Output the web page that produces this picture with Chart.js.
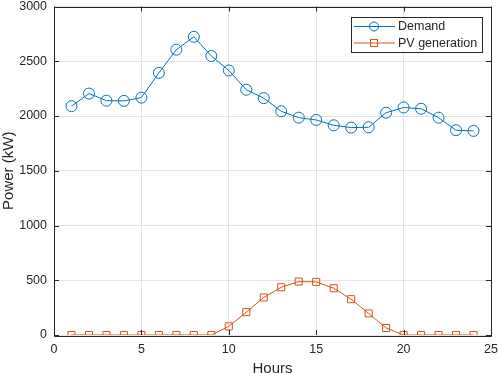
<!DOCTYPE html>
<html>
<head>
<meta charset="utf-8">
<script src="https://cdn.jsdelivr.net/npm/chart.js@4.4.1/dist/chart.umd.min.js"></script>
<style>
  html, body { margin: 0; padding: 0; background: #fff; }
</style>
</head>
<body>
<canvas id="power-chart" width="498" height="373"></canvas>
<script>
const hours = [1, 2, 3, 4, 5, 6, 7, 8, 9, 10, 11, 12, 13, 14, 15, 16, 17, 18, 19, 20, 21, 22, 23, 24];
const demand = [2090, 2205, 2140, 2138, 2168, 2394, 2606, 2723, 2548, 2416, 2240, 2163,
                2043, 1985, 1964, 1915, 1894, 1897, 2030, 2078, 2066, 1985, 1870, 1864];
const pvGeneration = [0, 0, 0, 0, 0, 0, 0, 0, 0, 79, 209, 343,
                      436, 488, 485, 427, 327, 197, 64, 0, 0, 0, 0, 0];
const xTicks = [0, 5, 10, 15, 20, 25];
const yTicks = [0, 500, 1000, 1500, 2000, 2500, 3000];
const seriesNames = ['Demand', 'PV generation'];

const blue = '#0072BD';
const orange = '#D95319';
const axisColor = '#262626';
const fontFamily = '"Liberation Sans", Arial, Helvetica, sans-serif';

// matlab style box with inward ticks on all four sides
const boxPlugin = {
    id: 'box',
    afterDatasetsDraw(chart) {
        const {ctx, chartArea: a, scales: {x, y}} = chart;
        ctx.save();
        ctx.strokeStyle = axisColor;
        ctx.lineWidth = 1;
        ctx.beginPath();
        ctx.rect(Math.round(a.left) + 0.5, Math.round(a.top) + 0.5,
                 Math.round(a.right - a.left), Math.round(a.bottom - a.top));
        xTicks.forEach(v => {
            const px = Math.round(x.getPixelForValue(v)) + 0.5;
            ctx.moveTo(px, a.bottom); ctx.lineTo(px, a.bottom - 5);
            ctx.moveTo(px, a.top); ctx.lineTo(px, a.top + 5);
        });
        yTicks.forEach(v => {
            const py = Math.round(y.getPixelForValue(v)) + 0.5;
            ctx.moveTo(a.left, py); ctx.lineTo(a.left + 5, py);
            ctx.moveTo(a.right, py); ctx.lineTo(a.right - 5, py);
        });
        ctx.stroke();
        ctx.restore();
    }
};

// legend drawn like matlab: line with marker through it
const matlabLegend = {
    id: 'matlabLegend',
    afterDraw(chart) {
        const {ctx, chartArea: a} = chart;
        const right = a.right - 9, top = a.top + 10;
        const w = 131, h = 35;
        const left = right - w;
        ctx.save();
        ctx.fillStyle = '#fff';
        ctx.fillRect(left, top, w, h);
        ctx.strokeStyle = axisColor;
        ctx.lineWidth = 1;
        ctx.strokeRect(Math.round(left) + 0.5, Math.round(top) + 0.5, w, h);
        chart.data.datasets.forEach((ds, i) => {
            const ry = top + 10 + i * 16.5;
            ctx.strokeStyle = ds.borderColor;
            ctx.lineWidth = 1;
            ctx.beginPath();
            ctx.moveTo(left + 3, ry); ctx.lineTo(left + 44, ry);
            ctx.stroke();
            const mx = left + 23;
            ctx.beginPath();
            if (ds.pointStyle === 'circle') {
                ctx.arc(mx, ry, 4.5, 0, Math.PI * 2);
            } else {
                ctx.rect(mx - 3.5, ry - 3.5, 7, 7);
            }
            ctx.stroke();
            ctx.fillStyle = axisColor;
            ctx.font = '12.5px ' + fontFamily;
            ctx.textBaseline = 'middle';
            ctx.fillText(ds.label, left + 47, ry + 0.5);
        });
        ctx.restore();
    }
};

const toPoints = vals => vals.map((v, i) => ({x: hours[i], y: v}));

const ctx = document.getElementById('power-chart').getContext('2d');
const powerChart = new Chart(ctx, {
    type: 'line',
    data: {
        datasets: [{
            label: seriesNames[0],
            data: toPoints(demand),
            borderColor: blue,
            borderWidth: 1,
            pointStyle: 'circle',
            pointRadius: 5.5,
            pointBorderWidth: 1,
            pointBorderColor: blue,
            pointBackgroundColor: 'rgba(0,0,0,0)',
            tension: 0
        }, {
            label: seriesNames[1],
            data: toPoints(pvGeneration),
            borderColor: orange,
            borderWidth: 1,
            pointStyle: 'rect',
            pointRadius: 5,
            pointBorderWidth: 1,
            pointBorderColor: orange,
            pointBackgroundColor: 'rgba(0,0,0,0)',
            tension: 0
        }]
    },
    options: {
        responsive: false,
        animation: false,
        devicePixelRatio: 1,
        layout: { padding: { top: 4, right: 7, left: 0, bottom: 0 } },
        plugins: {
            legend: { display: false },
            tooltip: { enabled: false }
        },
        scales: {
            x: {
                type: 'linear',
                min: 0,
                max: 25,
                afterBuildTicks: s => { s.ticks = xTicks.map(v => ({value: v})); },
                afterFit: s => { s.height = 38; s.paddingLeft = 0; s.paddingRight = 0; },
                grid: { color: '#e3e3e3', drawTicks: false },
                border: { display: false },
                ticks: {
                    color: axisColor,
                    padding: 7,
                    maxRotation: 0,
                    callback: v => String(v),
                    font: { family: fontFamily, size: 12.5 }
                },
                title: {
                    display: true,
                    text: 'Hours',
                    color: axisColor,
                    padding: 0,
                    font: { family: fontFamily, size: 15, lineHeight: 0.6 }
                }
            },
            y: {
                min: 0,
                max: 3000,
                afterBuildTicks: s => { s.ticks = yTicks.map(v => ({value: v})); },
                afterFit: s => { s.width = 54; s.paddingTop = 0; s.paddingBottom = 0; },
                grid: { color: '#e3e3e3', drawTicks: false },
                border: { display: false },
                ticks: {
                    color: axisColor,
                    padding: 7,
                    callback: v => String(v),
                    font: { family: fontFamily, size: 12.5 }
                },
                title: {
                    display: true,
                    text: 'Power (kW)',
                    color: axisColor,
                    padding: 0,
                    font: { family: fontFamily, size: 15 }
                }
            }
        }
    },
    plugins: [boxPlugin, matlabLegend]
});
</script>
</body>
</html>
